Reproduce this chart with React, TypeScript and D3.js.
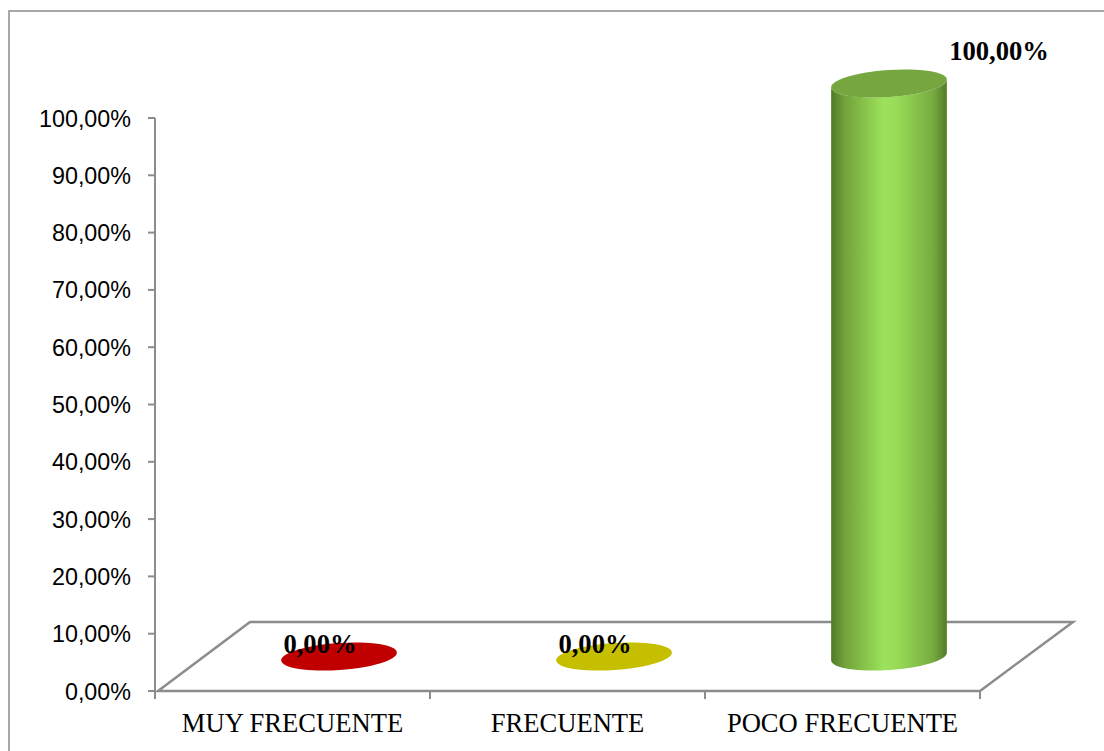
import React from "react";
import * as d3 from "d3";

const categories = ["MUY FRECUENTE", "FRECUENTE", "POCO FRECUENTE"];
const values = [0, 0, 1];
const colors = ["#C00000", "#C6BF00", "#92D050"];
const yTicks = [0, 0.1, 0.2, 0.3, 0.4, 0.5, 0.6, 0.7, 0.8, 0.9, 1.0];

const fmt = (v: number) => (v * 100).toFixed(2).replace(".", ",") + "%";

export default function App() {
  const W = 1104, H = 751;
  const y = d3.scaleLinear().domain([0, 1]).range([691, 118]);
  const x = d3.scaleBand<string>().domain(categories).range([155, 980]).padding(0);
  const depthX = 93, depthY = -69;
  const rx = 58, ry = 13.5;
  const theta = -4;
  const t = (theta * Math.PI) / 180;
  const baseY = y(0) + depthY / 2;

  const floor = [
    [158, y(0)],
    [980, y(0)],
    [980 + depthX, y(0) + depthY],
    [158 + depthX - 1, y(0) + depthY],
  ];
  const line = d3.line();

  return (
    <svg width={W} height={H} style={{ position: "absolute", left: 0, top: 0, background: "#fff" }}>
      <defs>
        <linearGradient id="cyl" x1="0" x2="1" y1="0" y2="0">
          <stop offset="0" stopColor="#507A26" />
          <stop offset="0.12" stopColor="#72A33B" />
          <stop offset="0.45" stopColor="#9CE15B" />
          <stop offset="0.58" stopColor="#97DA56" />
          <stop offset="0.88" stopColor="#77AB40" />
          <stop offset="1" stopColor="#517C27" />
        </linearGradient>
      </defs>
      {/* outer border */}
      <path d={`M9,${H + 5} L9,11 L${W + 5},11`} fill="none" stroke="#8c8c8c" strokeWidth={1.5} />
      {/* floor */}
      <path d={line(floor as [number, number][])! + "Z"} fill="none" stroke="#8c8c8c" strokeWidth={2.5} />
      {/* y axis */}
      <line x1={155} x2={155} y1={y(1)} y2={y(0) + 1} stroke="#8c8c8c" strokeWidth={2} />
      {yTicks.map((v) => (
        <g key={v}>
          <line x1={148} x2={155} y1={y(v)} y2={y(v)} stroke="#8c8c8c" strokeWidth={2} />
          <text x={131} y={y(v) + 8.5} textAnchor="end" fontFamily="Liberation Sans, Arial, sans-serif" fontSize={23.3} fill="#000">
            {fmt(v)}
          </text>
        </g>
      ))}
      {/* x ticks */}
      {[155, ...categories.map((c) => (x(c) as number) + x.bandwidth())].map((px, i) => (
        <line key={i} x1={px} x2={px} y1={y(0)} y2={y(0) + 8} stroke="#8c8c8c" strokeWidth={2} />
      ))}
      {categories.map((c) => (
        <text key={c} x={(x(c) as number) + x.bandwidth() / 2} y={732} textAnchor="middle" fontFamily="Liberation Serif, Times New Roman, serif" fontSize={26.6} fill="#000">
          {c}
        </text>
      ))}
      {/* bars */}
      {categories.map((c, i) => {
        const v = values[i];
        const cx = (x(c) as number) + x.bandwidth() / 2 + depthX / 2;
        const h = y(0) - y(v);
        const topY = baseY - h;
        const ex = rx * Math.cos(t), ey = rx * Math.sin(t);
        if (h < 1) {
          return (
            <ellipse key={c} cx={cx} cy={baseY} rx={rx} ry={ry} fill={colors[i]} transform={`rotate(${theta},${cx},${baseY})`} />
          );
        }
        const side = `M${cx - ex},${topY - ey} L${cx - ex},${baseY - ey} A${rx},${ry} ${theta} 0 0 ${cx + ex},${baseY + ey} L${cx + ex},${topY + ey} A${rx},${ry} ${theta} 0 1 ${cx - ex},${topY - ey} Z`;
        return (
          <g key={c}>
            <path d={side} fill="url(#cyl)" />
            <ellipse cx={cx} cy={topY} rx={rx} ry={ry} fill="#76A63F" transform={`rotate(${theta},${cx},${topY})`} />
          </g>
        );
      })}
      {/* data labels */}
      {categories.map((c, i) => {
        const v = values[i];
        const cx = (x(c) as number) + x.bandwidth() / 2 + depthX / 2;
        const h = y(0) - y(v);
        const topY = baseY - h;
        const lx = cx - 19 + 129 * v;
        const ly = topY - 4 - 20 * v;
        return (
          <text key={c} x={lx} y={ly} textAnchor="middle" fontFamily="Liberation Serif, Times New Roman, serif" fontWeight="bold" fontSize={26.6} fill="#000">
            {fmt(v)}
          </text>
        );
      })}
    </svg>
  );
}
